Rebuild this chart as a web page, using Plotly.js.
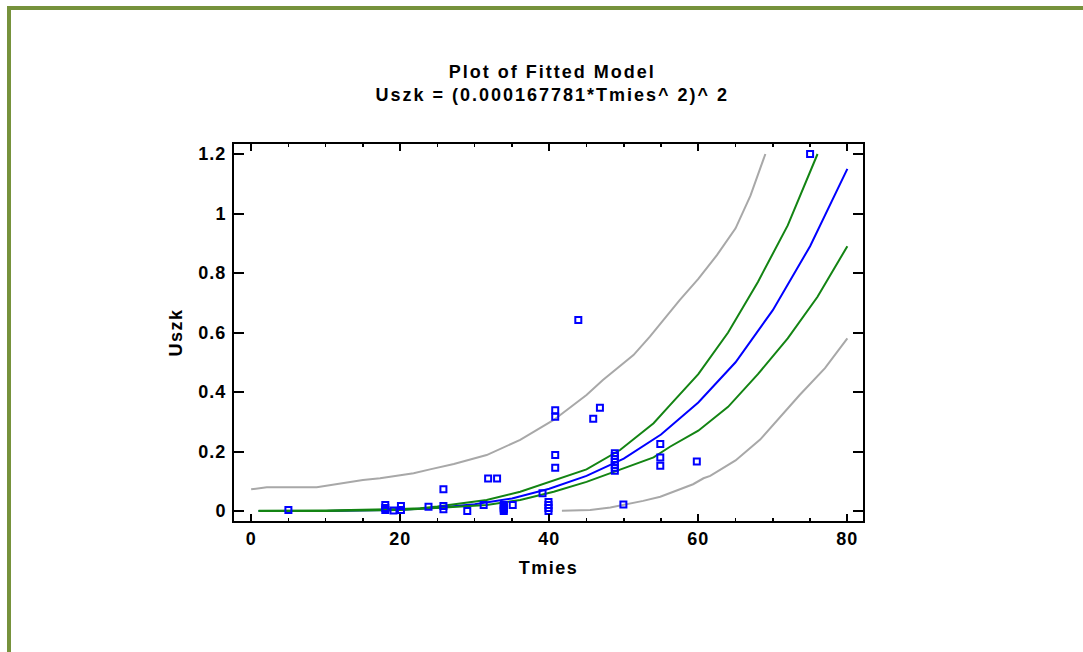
<!DOCTYPE html>
<html>
<head>
<meta charset="utf-8">
<script src="https://cdn.plot.ly/plotly-3.0.1.min.js"></script>
<style>
  html, body { margin: 0; padding: 0; background: #ffffff; }
  #wrap { position: relative; width: 1083px; height: 652px; overflow: hidden; background: #fff; }
  #bl { position: absolute; left: 7px; top: 6px; width: 4px; height: 646px; background: #76923c; }
  #bt { position: absolute; left: 7px; top: 6px; width: 1076px; height: 4px; background: #76923c; }
  #chart { position: absolute; left: 0; top: 0; width: 1083px; height: 652px; }
  #chart .gtitle { letter-spacing: 2px; }
  #chart .xtitle, #chart .ytitle { letter-spacing: 1.5px; }
  #chart .xtick text, #chart .ytick text { letter-spacing: 1px; }
</style>
</head>
<body>
<div id="wrap">
  <div id="bl"></div>
  <div id="bt"></div>
  <div id="chart"></div>
</div>
<script>
// Observed data points (Tmies, Uszk)
const obsX = [5, 18, 18, 18, 19.1, 20.1, 20.1, 23.8, 25.8, 25.8, 25.8, 29, 31.2, 31.8, 33.0,
  33.9, 33.9, 33.9, 33.9, 33.9, 35.1, 39.1, 39.9, 39.9, 39.9, 39.9, 40.8, 40.8, 40.8, 40.8,
  43.9, 45.9, 46.8, 48.8, 48.8, 48.8, 48.8, 48.8, 48.8, 48.8, 49.95, 54.9, 54.9, 54.9, 59.8, 75];
const obsY = [0.003, 0.02, 0.01, 0.003, 0.002, 0.017, 0.003, 0.014, 0.073, 0.017, 0.006, 0.0, 0.02, 0.109, 0.109,
  0.0, 0.005, 0.01, 0.015, 0.02, 0.02, 0.06, 0.0, 0.01, 0.02, 0.03, 0.339, 0.317, 0.188, 0.145,
  0.642, 0.31, 0.347, 0.135, 0.145, 0.155, 0.165, 0.175, 0.185, 0.194, 0.022, 0.225, 0.18, 0.152, 0.166, 1.2];

// Fitted curve
const fitX = [1, 10, 20, 25, 30, 35, 40, 45, 50, 55, 60, 65, 70, 75, 80];
const fitY = [0.0, 0.0003, 0.0045, 0.011, 0.023, 0.042, 0.075, 0.118, 0.176, 0.257, 0.365, 0.50, 0.675, 0.89, 1.15];

// Confidence limits for mean (green)
const confUpX = [1, 10, 20, 22.7, 25, 28, 31.6, 36.1, 40.6, 45, 49.5, 54, 56.2, 60, 64, 68, 72, 76];
const confUpY = [0.001, 0.002, 0.007, 0.009, 0.015, 0.025, 0.037, 0.065, 0.104, 0.14, 0.205, 0.295, 0.356, 0.46, 0.6, 0.77, 0.96, 1.2];
const confLoX = [1, 10, 20, 25, 31.6, 36.1, 40.6, 45, 49.5, 54, 56.2, 60, 64, 68, 72, 76, 80];
const confLoY = [0.0, 0.0, 0.003, 0.01, 0.02, 0.037, 0.065, 0.098, 0.138, 0.18, 0.216, 0.27, 0.35, 0.46, 0.58, 0.72, 0.89];

// Prediction limits (gray)
const predUpX = [0, 2.1, 8.8, 12.4, 15, 17.3, 19.6, 21.8, 24, 27.2, 31.6, 36.1, 40.6, 45, 47.2, 51.3, 53.5, 55.8, 57.5, 60, 62.5, 65, 67, 69];
const predUpY = [0.073, 0.08, 0.08, 0.095, 0.104, 0.11, 0.119, 0.127, 0.14, 0.158, 0.188, 0.239, 0.306, 0.39, 0.44, 0.524, 0.586, 0.659, 0.709, 0.78, 0.86, 0.95, 1.06, 1.2];
const predLoX = [41.7, 45.5, 48.2, 50.4, 52.6, 54.9, 57.1, 59.3, 60.7, 61.6, 65, 68.3, 73.6, 77, 80];
const predLoY = [0.001, 0.003, 0.012, 0.022, 0.034, 0.048, 0.068, 0.09, 0.11, 0.118, 0.17, 0.24, 0.39, 0.48, 0.58];

const xTicks = [0, 20, 40, 60, 80];
const yTicks = [0, 0.2, 0.4, 0.6, 0.8, 1, 1.2];

const gray = '#a8a8a8', green = '#138413', blue = '#0000ff';

const traces = [
  {x: predUpX, y: predUpY, mode: 'lines', line: {color: gray, width: 2}, hoverinfo: 'skip'},
  {x: predLoX, y: predLoY, mode: 'lines', line: {color: gray, width: 2}, hoverinfo: 'skip'},
  {x: fitX, y: fitY, mode: 'lines', line: {color: blue, width: 2}, hoverinfo: 'skip'},
  {x: confUpX, y: confUpY, mode: 'lines', line: {color: green, width: 2}, hoverinfo: 'skip'},
  {x: confLoX, y: confLoY, mode: 'lines', line: {color: green, width: 2}, hoverinfo: 'skip'},
  {x: obsX, y: obsY, mode: 'markers', marker: {symbol: 'square-open', size: 6, color: blue, line: {color: blue, width: 2}}}
];

const fontFam = '"Liberation Sans", Arial, sans-serif';

const layout = {
  width: 1083, height: 652, autosize: false,
  paper_bgcolor: 'rgba(0,0,0,0)', plot_bgcolor: '#ffffff',
  showlegend: false,
  margin: {l: 234, r: 220, t: 144, b: 131, pad: 0},
  font: {family: fontFam, color: '#000', size: 16},
  title: {
    text: '<b>Plot of Fitted Model</b><br><b>Uszk = (0.000167781*Tmies^ 2)^ 2</b>',
    font: {family: fontFam, size: 18, color: '#000'},
    x: 0.506, xanchor: 'center', xref: 'paper',
    y: 1 - 78 / 652, yanchor: 'top', yref: 'container'
  },
  xaxis: {
    range: [-2.3, 82.1], tickvals: xTicks, ticktext: xTicks.map(v => '<b>' + v + '</b>'),
    showline: true, linecolor: '#000', linewidth: 2, mirror: 'ticks',
    ticks: 'inside', ticklen: 7, tickwidth: 2, tickcolor: '#000',
    minor: {dtick: 5, tick0: 0, ticks: 'inside', ticklen: 3, tickwidth: 1.5, tickcolor: '#000'},
    showgrid: false, zeroline: false,
    tickfont: {family: fontFam, size: 18},
    title: {text: '<b>Tmies</b>', font: {family: fontFam, size: 18}, standoff: 14}
  },
  yaxis: {
    range: [-0.0336, 1.2336], tickvals: yTicks, ticktext: yTicks.map(v => '<b>' + v + '</b>'),
    showline: true, linecolor: '#000', linewidth: 2, mirror: 'ticks',
    ticks: 'inside', ticklen: 10, tickwidth: 2, tickcolor: '#000',
    showgrid: false, zeroline: false,
    tickfont: {family: fontFam, size: 18},
    ticklabelstandoff: 2,
    title: {text: '<b>Uszk</b>', font: {family: fontFam, size: 18}, standoff: 14}
  }
};

Plotly.newPlot('chart', traces, layout, {staticPlot: true, displayModeBar: false});
</script>
</body>
</html>
